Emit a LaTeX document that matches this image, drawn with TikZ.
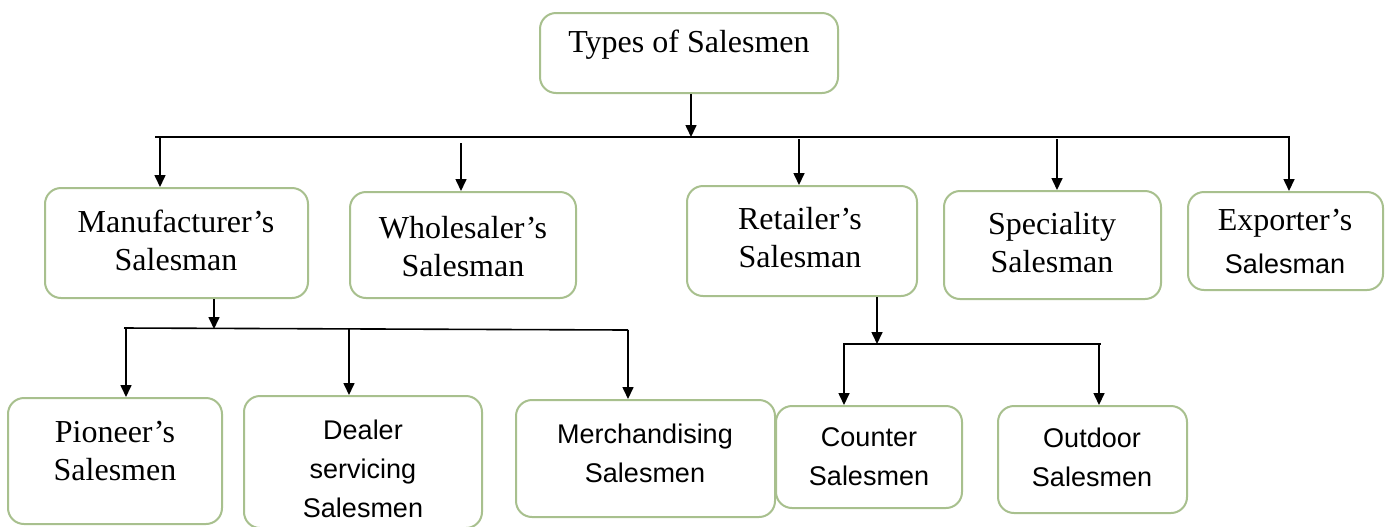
\documentclass[tikz,border=0pt]{standalone}
\usepackage{fontspec}
\setmainfont{Liberation Serif}
\setsansfont{Liberation Sans}
\usetikzlibrary{arrows.meta}
\definecolor{boxline}{RGB}{168,192,142}
\tikzset{
  x=0.5pt, y=-0.5pt,
  box/.style={draw=boxline, line width=1pt, rounded corners=8pt, fill=white,
    inner sep=0pt},
  serif/.style={align=center, font=\fontsize{16}{19}\selectfont},
  sans/.style={align=center, font=\sffamily\fontsize{13.5}{19.5}\selectfont},
  link/.style={line width=0.8pt, black},
  arr/.style={link, -{Triangle[length=6pt,width=5.5pt]}},
}
\newcommand{\boxat}[5]{% name, x, y, width, height
  \node[box, minimum width=#4*0.5pt, minimum height=#5*0.5pt] (#1) at (#2,#3) {};}
\begin{document}
\begin{tikzpicture}
\useasboundingbox (0,0) rectangle (1390,526);
\fill[white] (0,0) rectangle (1390,526);

% boxes
\boxat{top}{689}{53}{298}{80}
\boxat{man}{176.5}{243}{263}{110}
\boxat{whol}{463}{245}{226}{106}
\boxat{ret}{802}{241}{230}{110}
\boxat{spec}{1052.5}{245}{217}{108}
\boxat{expo}{1285.5}{241}{195}{98}
\boxat{pio}{115}{461}{214}{126}
\boxat{deal}{363}{462}{238}{132}
\boxat{mer}{645.5}{458.5}{259}{117}
\boxat{cou}{869}{457}{186}{102}
\boxat{out}{1092.5}{459.5}{189}{107}

% labels
\node[serif] (top-t) at (689,45) {Types of Salesmen};
\node[serif] (man-t) at (176,240) {Manufacturer’s\\Salesman};
\node[serif] (whol-t) at (463,247) {Wholesaler’s\\Salesman};
\node[serif] (ret-t) at (800,238) {Retailer’s\\Salesman};
\node[serif] (spec-t) at (1052,243) {Speciality\\Salesman};
\node[serif] (expo-t1) at (1285,223) {Exporter’s};
\node[sans] (expo-t2) at (1285,264) {Salesman};
\node[serif] (pio-t) at (115,451) {Pioneer’s\\Salesmen};
\node[sans] (deal-t) at (363,469) {Dealer\\servicing\\Salesmen};
\node[sans] (mer-t) at (645,453) {Merchandising\\Salesmen};
\node[sans] (cou-t) at (869,457) {Counter\\Salesmen};
\node[sans] (out-t) at (1092,457) {Outdoor\\Salesmen};

% first level: trunk, bus and drops
\coordinate (hub) at (691,137);
\coordinate (busL) at (155,137);
\coordinate (busR) at (1290,137);
\draw[arr] (top.south -| hub) -- (hub);
\draw[link] (busL) -- (busR);
\coordinate (d1) at (160,137);
\coordinate (d2) at (461,143);
\coordinate (d3) at (799,139);
\coordinate (d4) at (1057,139);
\coordinate (d5) at (1289,137);
\draw[arr] (d1) -- (man.north -| d1);
\draw[arr] (d2) -- (whol.north -| d2);
\draw[arr] (d3) -- (ret.north -| d3);
\draw[arr] (d4) -- (spec.north -| d4);
\draw[arr] (d5) -- (expo.north -| d5);

% manufacturer's branch
\coordinate (mhub) at (214,329);
\coordinate (mL) at (124,328);
\coordinate (mR) at (628,330);
\draw[arr] (man.south -| mhub) -- (mhub);
\draw[link] (mL) -- (mR);
\coordinate (m1) at (126,328);
\coordinate (m2) at (349,329);
\coordinate (m3) at (628,330);
\draw[arr] (m1) -- (pio.north -| m1);
\draw[arr] (m2) -- (deal.north -| m2);
\draw[arr] (m3) -- (mer.north -| m3);

% retailer's branch
\coordinate (rhub) at (877,344);
\coordinate (rL) at (843,344);
\coordinate (rR) at (1101,344);
\draw[arr] (ret.south -| rhub) -- (rhub);
\draw[link] (rL) -- (rR);
\coordinate (r1) at (844,344);
\coordinate (r2) at (1099,344);
\draw[arr] (r1) -- (cou.north -| r1);
\draw[arr] (r2) -- (out.north -| r2);
\end{tikzpicture}
\end{document}
